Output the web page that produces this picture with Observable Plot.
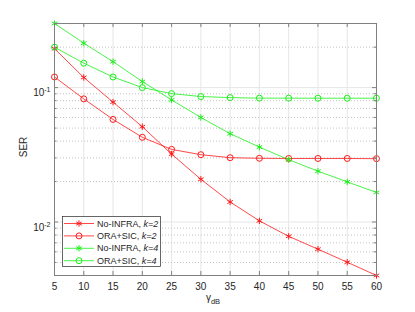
<!DOCTYPE html>
<html><head><meta charset="utf-8">
<script src="https://cdn.jsdelivr.net/npm/d3@7"></script>
<script src="https://cdn.jsdelivr.net/npm/@observablehq/plot@0.6"></script>
<style>body{margin:0;background:#fff}</style>
</head><body><div id="chart"></div>
<script>
const snrDb = [5, 10, 15, 20, 25, 30, 35, 40, 45, 50, 55, 60];
const noInfraK2 = [0.195, 0.119, 0.078, 0.0512, 0.032, 0.0208, 0.0141, 0.0102, 0.00783, 0.00628, 0.00502, 0.0040];
const oraSicK2  = [0.12, 0.0825, 0.058, 0.0427, 0.0347, 0.0317, 0.0301, 0.0298, 0.0297, 0.0297, 0.0297, 0.0296];
const noInfraK4 = [0.3, 0.214, 0.156, 0.111, 0.081, 0.060, 0.0454, 0.0361, 0.0291, 0.0239, 0.0199, 0.0166];
const oraSicK4  = [0.2, 0.152, 0.12, 0.1, 0.0903, 0.0858, 0.0843, 0.0835, 0.0835, 0.0834, 0.0834, 0.0834];

const seriesNames = ["No-INFRA, k=2", "ORA+SIC, k=2", "No-INFRA, k=4", "ORA+SIC, k=4"];
const seriesColors = ["#ff1a1a", "#ff1a1a", "#19f019", "#19f019"];
const seriesSymbols = ["asterisk", "circle", "asterisk", "circle"];

const xTicks = [5, 10, 15, 20, 25, 30, 35, 40, 45, 50, 55, 60];
const yMajor = [0.01, 0.1];
const yTickExps = ["-2", "-1"];
const yMinor = [0.004, 0.005, 0.006, 0.007, 0.008, 0.009, 0.02, 0.03, 0.04, 0.05, 0.06, 0.07, 0.08, 0.09, 0.2, 0.3];

const W = 415, H = 312, ML = 54, MR = 39, MT = 23, MB = 37;
const PW = W - ML - MR, PH = H - MT - MB;

const rows = [];
[noInfraK2, oraSicK2, noInfraK4, oraSicK4].forEach((vals, i) =>
  vals.forEach((v, j) => rows.push({series: seriesNames[i], x: snrDb[j], y: v})));

const axisCol = "#808080";
const chart = Plot.plot({
  width: W, height: H,
  marginLeft: ML, marginRight: MR, marginTop: MT, marginBottom: MB,
  style: {fontFamily: "'Liberation Sans', Arial, sans-serif", fontSize: "10px", background: "#fff", color: "#262626"},
  x: {domain: [5, 60], axis: null},
  y: {type: "log", domain: [0.004, 0.3], axis: null},
  color: {domain: seriesNames, range: seriesColors},
  symbol: {domain: seriesNames, range: seriesSymbols},
  marks: [
    Plot.ruleX(xTicks, {x: d => d, stroke: "#e6e6e6", strokeWidth: 1}),
    Plot.ruleY(yMinor, {y: d => d, stroke: "#c4c4c4", strokeDasharray: "1,2", strokeWidth: 1}),
    Plot.ruleY(yMajor, {y: d => d, stroke: "#e6e6e6", strokeWidth: 1}),
    Plot.line(rows, {x: "x", y: "y", z: "series", stroke: "series", strokeWidth: 0.8}),
    Plot.dot(rows, {x: "x", y: "y", symbol: "series", stroke: "series", r: 3, strokeWidth: 1}),
    Plot.frame({stroke: axisCol, strokeWidth: 1}),
    Plot.tickX(xTicks, {x: d => d, insetTop: PH - 4, stroke: axisCol}),
    Plot.tickX(xTicks, {x: d => d, insetBottom: PH - 4, stroke: axisCol}),
    Plot.tickY(yMajor, {y: d => d, insetRight: PW - 4, stroke: axisCol}),
    Plot.tickY(yMajor, {y: d => d, insetLeft: PW - 4, stroke: axisCol}),
    Plot.tickY(yMinor, {y: d => d, insetRight: PW - 2.5, stroke: axisCol}),
    Plot.tickY(yMinor, {y: d => d, insetLeft: PW - 2.5, stroke: axisCol}),
    Plot.axisX({ticks: xTicks, tickSize: 0, tickPadding: 7, tickFormat: d => String(d), label: null, fontSize: 10}),
    Plot.axisY({ticks: yMajor, tickSize: 0, tickPadding: 4, tickFormat: () => "10", label: null, fontSize: 10})
  ]
});
document.getElementById("chart").appendChild(chart);

const svg = d3.select(chart);
svg.selectAll('g[aria-label="y-axis tick label"] text').each(function(d, i) {
  const t = d3.select(this);
  t.attr("dy", "0.55em");
  t.append("tspan").attr("dy", "-0.6em").attr("font-size", "7px").text(yTickExps[i]);
});

// axis labels
const xl = svg.append("text").attr("x", 213).attr("y", 301).attr("text-anchor", "middle")
  .attr("font-size", 10).attr("fill", "#262626");
xl.append("tspan").text("γ");
xl.append("tspan").attr("dy", "0.35em").attr("font-size", "7.5px").text("dB");
svg.append("text").attr("transform", "translate(27,147) rotate(-90)").attr("text-anchor", "middle")
  .attr("font-size", 10).attr("fill", "#262626").text("SER");

// legend
const lg = svg.append("g").attr("text-anchor", "start");
lg.append("rect").attr("x", 62.5).attr("y", 216.5).attr("width", 98).attr("height", 50)
  .attr("fill", "#fff").attr("stroke", "#262626").attr("stroke-width", 0.7);
seriesNames.forEach((name, i) => {
  const cy = 223.5 + i * 12.4;
  lg.append("line").attr("x1", 64).attr("x2", 94).attr("y1", cy).attr("y2", cy)
    .attr("stroke", seriesColors[i]).attr("stroke-width", 0.8);
  lg.append("path").attr("transform", `translate(79,${cy})`)
    .attr("d", d3.symbol(seriesSymbols[i] === "asterisk" ? d3.symbolAsterisk : d3.symbolCircle, Math.PI * 9)())
    .attr("fill", "none").attr("stroke", seriesColors[i]).attr("stroke-width", 1);
  const t = lg.append("text").attr("x", 97).attr("y", cy).attr("dy", "0.35em")
    .attr("text-anchor", "start").attr("font-size", 9).attr("fill", "#262626");
  const [pre, kpart] = name.split("k=");
  t.append("tspan").text(pre);
  t.append("tspan").attr("font-style", "italic").text("k=" + kpart);
});
</script>
</body></html>
